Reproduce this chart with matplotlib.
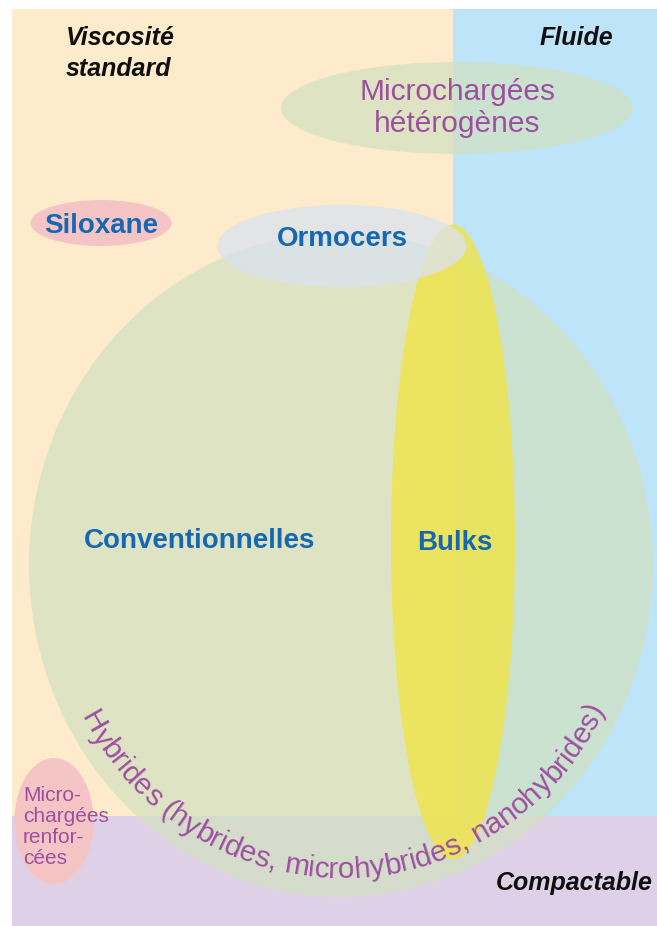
import numpy as np
import matplotlib
matplotlib.use("Agg")
import matplotlib.pyplot as plt
from matplotlib.patches import Rectangle, Ellipse
from matplotlib.font_manager import FontProperties, findfont, get_font

# ---------------- data (text content of the diagram) ----------------
region_labels = ["Viscosité\nstandard", "Fluide", "Compactable"]
group_labels = ["Siloxane", "Ormocers", "Conventionnelles", "Bulks"]
filler_labels = ["Microchargées\nhétérogènes", "Micro-\nchargées\nrenfor-\ncées"]
arc_label = "Hybrides (hybrides, microhybrides, nanohybrides)"

# ---------------- figure in pixel coordinates ----------------
W, H = 657, 926
fig = plt.figure(figsize=(W / 100, H / 100), dpi=100)
ax = fig.add_axes([0, 0, 1, 1])
ax.set_xlim(0, W)
ax.set_ylim(H, 0)
ax.axis("off")
fig.patch.set_facecolor("white")

def rgb(r, g, b):
    return (r / 255, g / 255, b / 255)

beige = rgb(254, 235, 203)
sky = rgb(190, 228, 249)
lilac = rgb(221, 208, 231)
green = rgb(210, 226, 193)
yellow = rgb(241, 229, 62)
grey = rgb(219, 226, 238)
pink = rgb(245, 197, 197)
blue_txt = rgb(22, 104, 178)
purple_txt = rgb(157, 80, 160)
FAM = "Liberation Sans"

# background zones
ax.add_patch(Rectangle((12, 9), 441, 807, facecolor=beige, lw=0, zorder=1))
ax.add_patch(Rectangle((453, 9), 204, 807, facecolor=sky, lw=0, zorder=1))
ax.add_patch(Rectangle((12, 816), 645, 110, facecolor=lilac, lw=0, zorder=1))

# ellipses
ax.add_patch(Ellipse((341, 565), 624, 664, facecolor=green, alpha=0.72, lw=0, zorder=2))
ax.add_patch(Ellipse((457, 108), 352, 92, facecolor=green, alpha=0.72, lw=0, zorder=2))
ax.add_patch(Ellipse((453, 542), 124, 635, facecolor=yellow, alpha=0.76, lw=0, zorder=3))
ax.add_patch(Ellipse((342, 246), 249, 82, facecolor=grey, alpha=0.77, lw=0, zorder=4))
ax.add_patch(Ellipse((101, 223), 141, 46, facecolor=pink, lw=0, zorder=4))
ax.add_patch(Ellipse((54, 821), 79, 126, facecolor=pink, lw=0, zorder=4))

# region labels (bold italic black)
hd = dict(family=FAM, fontsize=18, fontweight="bold", fontstyle="italic",
          color=rgb(15, 15, 15), zorder=6)
visc = region_labels[0].split("\n")
ax.text(66, 45, visc[0], ha="left", va="baseline", **hd)
ax.text(66, 76.5, visc[1], ha="left", va="baseline", **hd)
ax.text(540, 45, region_labels[1], ha="left", va="baseline", **hd)
ax.text(653, 890, region_labels[2], ha="right", va="baseline", **hd)

# group labels (bold blue)
gp = dict(family=FAM, fontsize=20, fontweight="bold", color=blue_txt, zorder=6,
          ha="center", va="baseline")
ax.text(101, 233, group_labels[0], **gp)
ax.text(342, 246.5, group_labels[1], **gp)
ax.text(200, 548, group_labels[2], **gp)
ax.text(455, 550, group_labels[3], **gp)

# filler labels (purple)
mh = filler_labels[0].split("\n")
ax.text(457, 100, mh[0], family=FAM, fontsize=21.5, color=purple_txt,
        ha="center", va="baseline", zorder=6)
ax.text(457, 132, mh[1], family=FAM, fontsize=21.5, color=purple_txt,
        ha="center", va="baseline", zorder=6)
mr = filler_labels[1].split("\n")
for line, yb in zip(mr, [801, 822, 843, 864]):
    ax.text(23, yb, line, family=FAM, fontsize=15, color=purple_txt,
            ha="left", va="baseline", zorder=6)

# text along the lower arc of the big circle
arc_size = 21.3
prop = FontProperties(family=FAM, size=arc_size)
font = get_font(findfont(prop))
font.set_size(arc_size, 100)
adv = np.array([font.load_char(ord(c)).linearHoriAdvance / 65536 for c in arc_label])
cx, cy, a_b, b_b = 341, 565, 298, 313
tt = np.radians(np.linspace(165, 10, 6000))
px = cx + a_b * np.cos(tt)
py = cy + b_b * np.sin(tt)
s = np.concatenate([[0], np.cumsum(np.hypot(np.diff(px), np.diff(py)))])
s0 = np.interp(np.radians(151), tt[::-1], s[::-1])
centers = s0 + np.concatenate([[0], np.cumsum(adv)[:-1]]) + adv / 2
tc = np.interp(centers, s, tt)
for ch, t in zip(arc_label, tc):
    x = cx + a_b * np.cos(t)
    y = cy + b_b * np.sin(t)
    ang = np.degrees(np.arctan2(b_b * np.cos(t), a_b * np.sin(t)))
    ax.text(x, y, ch, family=FAM, fontsize=arc_size, color=purple_txt,
            rotation=ang, rotation_mode="anchor", ha="center", va="baseline", zorder=6)

fig.savefig("out.png", dpi=100, facecolor="white")
